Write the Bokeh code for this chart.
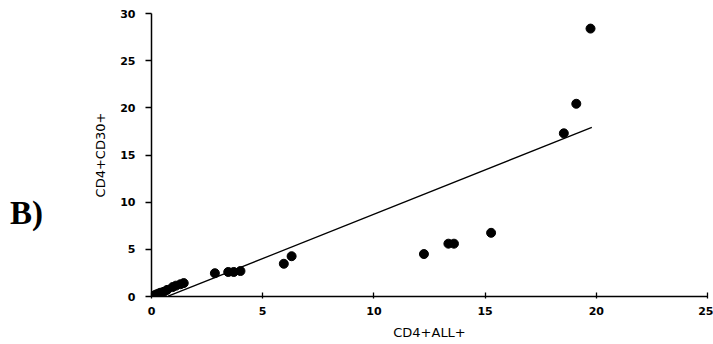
from bokeh.plotting import figure
from bokeh.models import Range1d, FixedTicker, Div
from bokeh.layouts import row
from bokeh.embed import file_html
from bokeh.resources import INLINE

# Data
cd4_all = [0.05, 0.12, 0.2, 0.3, 0.4, 0.55, 0.7, 0.95, 1.1, 1.3, 1.45,
           2.85, 3.45, 3.7, 4.0, 5.95, 6.3, 12.25, 13.35, 13.6, 15.27,
           18.54, 19.1, 19.74]
cd4_cd30 = [0.05, 0.1, 0.2, 0.3, 0.4, 0.5, 0.7, 1.0, 1.15, 1.3, 1.42,
            2.47, 2.6, 2.6, 2.7, 3.47, 4.27, 4.5, 5.6, 5.6, 6.75,
            17.3, 20.43, 28.4]
fit_x = [0.75, 19.8]
fit_y = [0.03, 17.93]
x_ticks = [0, 5, 10, 15, 20, 25]
y_ticks = [0, 5, 10, 15, 20, 25, 30]

p = figure(width=653, height=344, output_backend="svg", toolbar_location=None,
           x_range=Range1d(0, 25), y_range=Range1d(0, 30),
           min_border_left=91, min_border_right=6,
           min_border_top=13, min_border_bottom=48)
p.outline_line_color = None
p.grid.visible = False
p.background_fill_color = "white"
p.border_fill_color = "white"

p.line(fit_x, fit_y, line_color="black", line_width=1.3)
p.scatter(cd4_all, cd4_cd30, size=9, color="black")

for ax in (p.xaxis[0], p.yaxis[0]):
    ax.axis_line_color = "black"
    ax.axis_line_width = 1.5
    ax.major_tick_line_color = "black"
    ax.major_tick_line_width = 1.3
    ax.minor_tick_line_color = None
    ax.major_label_text_font = "DejaVu Sans"
    ax.major_label_text_font_size = "11px"
    ax.major_label_text_font_style = "bold"
    ax.major_label_text_color = "black"
    ax.axis_label_text_font = "DejaVu Sans"
    ax.axis_label_text_font_size = "13px"
    ax.axis_label_text_font_style = "normal"
    ax.axis_label_text_color = "black"

p.xaxis.ticker = FixedTicker(ticks=x_ticks)
p.yaxis.ticker = FixedTicker(ticks=y_ticks)
p.xaxis.major_tick_out = 2
p.xaxis.major_tick_in = 4
p.yaxis.major_tick_out = 6
p.yaxis.major_tick_in = 0
p.xaxis.major_label_standoff = 8
p.yaxis.major_label_standoff = 10
p.xaxis.axis_label = "CD4+ALL+"
p.yaxis.axis_label = "CD4+CD30+"
p.xaxis.axis_label_standoff = 7
p.yaxis.axis_label_standoff = 9

tag = Div(text="B)", width=60, height=344,
          styles={"font-family": "Liberation Serif", "font-size": "33px",
                  "font-weight": "bold", "line-height": "1", "margin": "0",
                  "padding-top": "197px", "padding-left": "10px",
                  "color": "black", "background": "white"})

layout = row(tag, p, spacing=0)
open("out.html", "w").write(file_html(layout, INLINE))
